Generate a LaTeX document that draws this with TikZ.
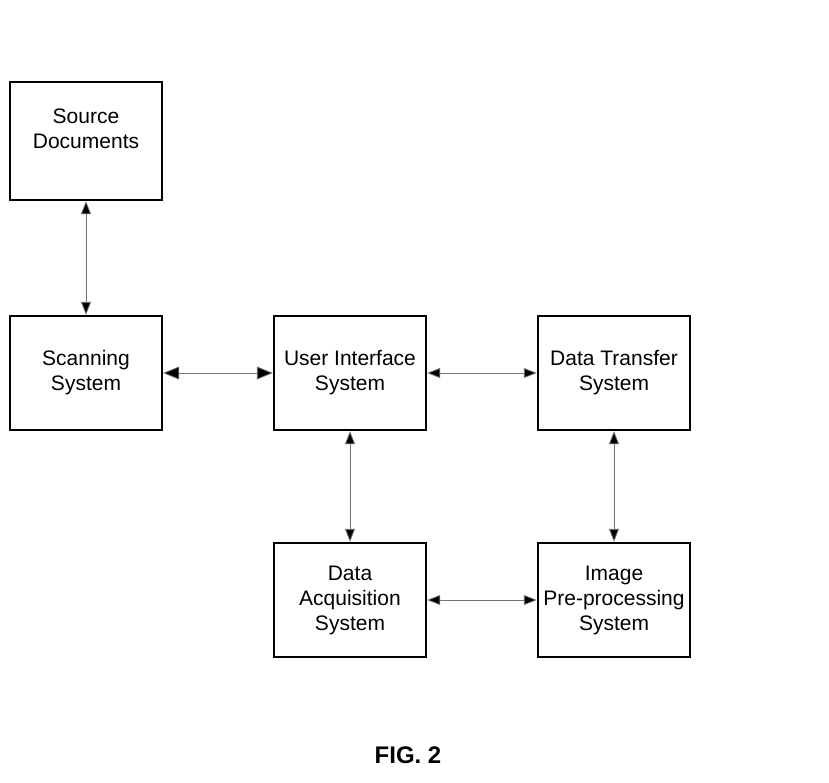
\documentclass[tikz,border=0pt]{standalone}
\usepackage{fontspec}
\setmainfont{Liberation Sans}
\usetikzlibrary{arrows.meta}
\begin{document}
\begin{tikzpicture}[x=1pt,y=-1pt,
  blockbox/.style={draw=black,line width=2.3pt,minimum width=152pt,minimum height=114pt,inner sep=0pt,align=center,font=\fontsize{21}{25}\selectfont},
  link/.style={draw=black!55,line width=0.8pt,{Triangle[length=13pt,width=10pt,fill=black]}-{Triangle[length=13pt,width=10pt,fill=black]}},
  biglink/.style={draw=black!55,line width=0.8pt,{Triangle[length=16pt,width=13pt,fill=black]}-{Triangle[length=16pt,width=13pt,fill=black]}}]
\useasboundingbox (0,0) rectangle (829,782);
\node[blockbox,minimum height=118pt] (src) at (86,141) {Source\\Documents\\\mbox{}};
\node[blockbox] (scan) at (86,373) {Scanning\\System};
\node[blockbox] (ui) at (350,373) {User Interface\\System};
\node[blockbox] (dt) at (614,373) {Data Transfer\\System};
\node[blockbox] (da) at (350,600) {Data\\Acquisition\\System};
\node[blockbox] (ip) at (614,600) {Image\\Pre-processing\\System};
\node[font=\bfseries\fontsize{24}{28}\selectfont] (fig) at (408,755) {FIG. 2};
\draw[link] (src.south) -- (scan.north);
\draw[biglink] (scan.east) -- (ui.west);
\draw[link] (ui.east) -- (dt.west);
\draw[link] (ui.south) -- (da.north);
\draw[link] (dt.south) -- (ip.north);
\draw[link] (da.east) -- (ip.west);
\end{tikzpicture}
\end{document}
